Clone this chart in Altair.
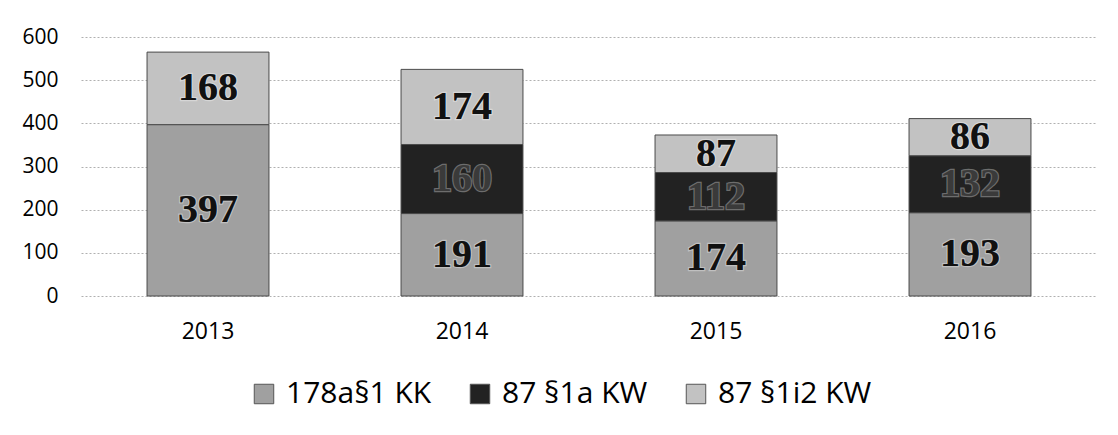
import altair as alt
import pandas as pd

years = ["2013", "2014", "2015", "2016"]
series = ["178a§1 KK", "87 §1a KW", "87 §1i2 KW"]
kk_178a = [397, 191, 174, 193]
kw_87_1a = [0, 160, 112, 132]
kw_87_1i2 = [168, 174, 87, 86]
y_ticks = [0, 100, 200, 300, 400, 500, 600]
colors = ["#a0a0a0", "#222222", "#c2c2c2"]
label_colors = ["#111111", "#3a3a3a", "#111111"]

rows = []
for s_idx, (name, vals) in enumerate(zip(series, [kk_178a, kw_87_1a, kw_87_1i2])):
    for y, v in zip(years, vals):
        if v > 0:
            rows.append({"year": y, "series": name, "value": v, "ord": s_idx,
                         "lcolor": label_colors[s_idx]})
df = pd.DataFrame(rows)

base = alt.Chart(df).transform_stack(
    stack="value", groupby=["year"], sort=[{"field": "ord", "order": "ascending"}],
    as_=["y0", "y1"]
).transform_calculate(mid="(datum.y0 + datum.y1) / 2")

x_enc = alt.X("year:N", title=None,
              scale=alt.Scale(paddingInner=0.52, paddingOuter=0.26),
              axis=alt.Axis(labelAngle=0, labelFont="Open Sans", labelFontSize=23,
                            labelColor="#000", labelPadding=24, ticks=False, domain=False))
y_scale = alt.Scale(domain=[0, 600])

bars = base.mark_bar(stroke="#4a4a4a", strokeWidth=1).encode(
    x=x_enc,
    y=alt.Y("y0:Q", scale=y_scale, title=None,
            axis=alt.Axis(values=y_ticks, labelFont="Open Sans", labelFontSize=21,
                          labelColor="#000", labelPadding=23, ticks=False, domain=False,
                          grid=True, gridColor="#b0b0b0", gridDash=[2, 2], gridWidth=1)),
    y2="y1:Q",
    color=alt.Color("series:N", scale=alt.Scale(domain=series, range=colors),
                    legend=alt.Legend(title=None, orient="none", legendX=168, legendY=342,
                                      direction="horizontal", columns=3,
                                      symbolType="square", symbolSize=380,
                                      symbolStrokeColor="#555", symbolStrokeWidth=1,
                                      labelFont="Open Sans", labelFontSize=30,
                                      labelColor="#000", labelOffset=7,
                                      columnPadding=33, padding=0)),
    order=alt.Order("ord:Q"),
)

halo = base.mark_text(font="Liberation Serif", fontWeight="bold", fontSize=40,
                      baseline="middle", stroke="#ffffff", strokeWidth=2.5,
                      strokeOpacity=0.35).encode(
    x="year:N", y=alt.Y("mid:Q", scale=y_scale), text="value:Q",
    color=alt.value("#111"),
)

labels = base.mark_text(font="Liberation Serif", fontWeight="bold", fontSize=40,
                        baseline="middle").encode(
    x="year:N", y=alt.Y("mid:Q", scale=y_scale), text="value:Q",
    color=alt.Color("lcolor:N", scale=None, legend=None),
)

chart = alt.layer(bars, halo, labels).properties(
    width=1016, height=259,
    padding={"left": 73, "top": 29, "right": 13, "bottom": 131},
    autosize=alt.AutoSizeParams(type="none"),
    background="white",
).configure_view(stroke=None)

chart.save("out.html", embed_options={"renderer": "svg", "actions": False})
